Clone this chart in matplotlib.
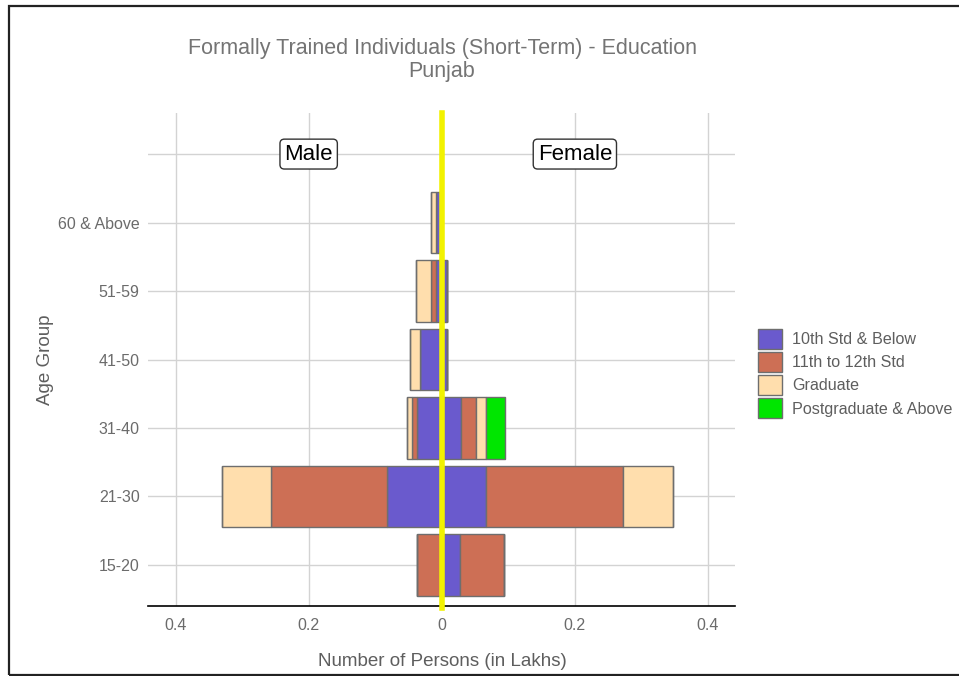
import matplotlib
matplotlib.use("Agg")
import matplotlib.pyplot as plt
import numpy as np
from matplotlib.patches import Rectangle, Patch

plt.rcParams['font.family'] = ['Liberation Sans', 'DejaVu Sans']

age_groups = ["15-20", "21-30", "31-40", "41-50", "51-59", "60 & Above"]
levels = ["10th Std & Below", "11th to 12th Std", "Graduate", "Postgraduate & Above"]
colors = ["#6A5ACD", "#CD6F55", "#FFDEAD", "#00E600"]

# values in lakhs, per age group
male_10th = [0.001, 0.082, 0.037, 0.032, 0.009, 0.009]
male_11_12 = [0.036, 0.175, 0.0075, 0.0, 0.007, 0.0]
male_grad = [0.0, 0.073, 0.0075, 0.0155, 0.023, 0.007]
male_pg = [0.0, 0.0, 0.0, 0.0, 0.0, 0.0]

female_10th = [0.028, 0.067, 0.0286, 0.0075, 0.0075, 0.0]
female_11_12 = [0.0655, 0.206, 0.0235, 0.0, 0.0, 0.0]
female_grad = [0.0, 0.074, 0.015, 0.0, 0.0, 0.0]
female_pg = [0.0, 0.0, 0.0286, 0.0, 0.0, 0.0]

x_ticks = [-0.4, -0.2, 0, 0.2, 0.4]
x_ticklabels = ["0.4", "0.2", "0", "0.2", "0.4"]

fig = plt.figure(figsize=(9.59, 6.76), dpi=100)
ax = fig.add_axes([148/959, 1-606/676, (735-148)/959, (606-113)/676])

ypos = np.arange(1, len(age_groups) + 1)
male = [male_10th, male_11_12, male_grad, male_pg]
female = [female_10th, female_11_12, female_grad, female_pg]

left_m = np.zeros(len(age_groups))
left_f = np.zeros(len(age_groups))
for i in range(4):
    mv = np.array(male[i])
    fv = np.array(female[i])
    ax.barh(ypos, -mv, left=-left_m, height=0.9, color=colors[i],
            edgecolor="#6E6E6E", linewidth=1.0, zorder=3)
    ax.barh(ypos, fv, left=left_f, height=0.9, color=colors[i],
            edgecolor="#6E6E6E", linewidth=1.0, zorder=3)
    left_m += mv
    left_f += fv

ax.axvline(0, color="#F2F200", linewidth=4, zorder=5, ymin=-0.005, clip_on=False)

ax.set_xlim(-0.4414, 0.4406)
ax.set_ylim(0.4, 7.6)
ax.set_yticks(list(ypos) + [7])
ax.set_yticklabels(age_groups + [""])
ax.set_xticks(x_ticks)
ax.set_xticklabels(x_ticklabels)
ax.tick_params(axis='both', length=0, labelsize=11.5, labelcolor="#6B6B6B", pad=6)
ax.tick_params(axis='x', pad=9)

ax.grid(True, color="#D3D3D3", linewidth=1.0, zorder=0)
ax.set_axisbelow(True)
for s in ["top", "right", "left"]:
    ax.spines[s].set_visible(False)
ax.spines["bottom"].set_color("black")
ax.spines["bottom"].set_linewidth(1.2)

box = dict(boxstyle="round,pad=0.2,rounding_size=0.2", facecolor="white", edgecolor="#333333", linewidth=1)
ax.text(-0.2, 7, "Male", ha="center", va="center", fontsize=16, color="black", bbox=box, zorder=6)
ax.text(0.2, 7, "Female", ha="center", va="center", fontsize=16, color="black", bbox=box, zorder=6)

fig.text(442/959, 1-662/676, "Number of Persons (in Lakhs)", ha="center", va="center",
         fontsize=13.5, color="#5E5E5E")
fig.text(45/959, 1-360/676, "Age Group", ha="center", va="center", rotation=90,
         fontsize=13.5, color="#5E5E5E")

fig.text(442/959, 1-60/676, "Formally Trained Individuals (Short-Term) - Education\nPunjab",
         ha="center", va="center", fontsize=15.5, color="#747474", linespacing=1.15)

handles = [Patch(facecolor=c, edgecolor="#6E6E6E", label=l) for c, l in zip(colors, levels)]
leg = fig.legend(handles=handles, loc="center left", bbox_to_anchor=(752/959, 1-373.5/676),
                 frameon=False, fontsize=11.6, handlelength=1.45, handleheight=1.5,
                 labelspacing=0.22, handletextpad=0.65, borderaxespad=0)
for t in leg.get_texts():
    t.set_color("#5E5E5E")

fig.patches.append(Rectangle((9/959, 1-675/676), 1.2, (675-6)/676, transform=fig.transFigure,
                             fill=False, edgecolor="#222222", linewidth=1.6))

fig.savefig("out.png", dpi=100)
